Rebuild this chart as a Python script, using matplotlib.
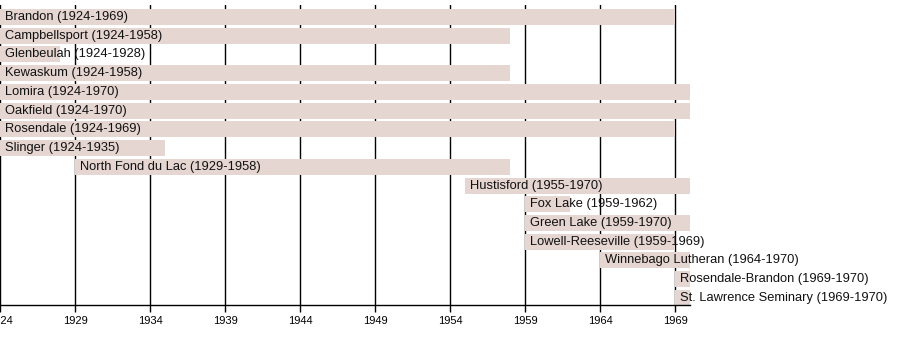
import matplotlib
matplotlib.use('Agg')
import matplotlib.pyplot as plt

schools = ['Brandon', 'Campbellsport', 'Glenbeulah', 'Kewaskum', 'Lomira', 'Oakfield',
           'Rosendale', 'Slinger', 'North Fond du Lac', 'Hustisford', 'Fox Lake',
           'Green Lake', 'Lowell-Reeseville', 'Winnebago Lutheran', 'Rosendale-Brandon',
           'St. Lawrence Seminary']
start_years = [1924, 1924, 1924, 1924, 1924, 1924, 1924, 1924, 1929, 1955, 1959,
               1959, 1959, 1964, 1969, 1969]
end_years = [1969, 1958, 1928, 1958, 1970, 1970, 1969, 1935, 1958, 1970, 1962,
             1970, 1969, 1970, 1970, 1970]
tick_years = list(range(1924, 1970, 5))

bar_color = '#e6d6d1'

fig = plt.figure(figsize=(9, 3.55), dpi=100)
ax = fig.add_axes([0, 50 / 355, 1, 300 / 355])

for i, (name, s, e) in enumerate(zip(schools, start_years, end_years)):
    ax.barh(i, e - s, left=s, height=0.855, color=bar_color, zorder=2)
    ax.text(s + 0.3, i, f'{name} ({s}-{e})', va='center', ha='left',
            fontsize=9.3, family='Liberation Sans', color='#111111', zorder=3)

for t in tick_years:
    ax.axvline(t, color='black', lw=1, zorder=1)

ax.set_xlim(1924, 1984)
ax.set_ylim((305 - 17) / 18.73, (5 - 17) / 18.73)
ax.set_xticks(tick_years)
ax.set_xticklabels([str(t) for t in tick_years], fontsize=8, family='Liberation Sans')
ax.tick_params(axis='x', length=5, width=1, color='black', pad=3)
ax.set_yticks([])
for side in ['top', 'right', 'left']:
    ax.spines[side].set_visible(False)
ax.spines['bottom'].set_linewidth(1)
ax.spines['bottom'].set_bounds(1924, 1970)
ax.set_facecolor('white')

fig.savefig('out.png', dpi=100)
